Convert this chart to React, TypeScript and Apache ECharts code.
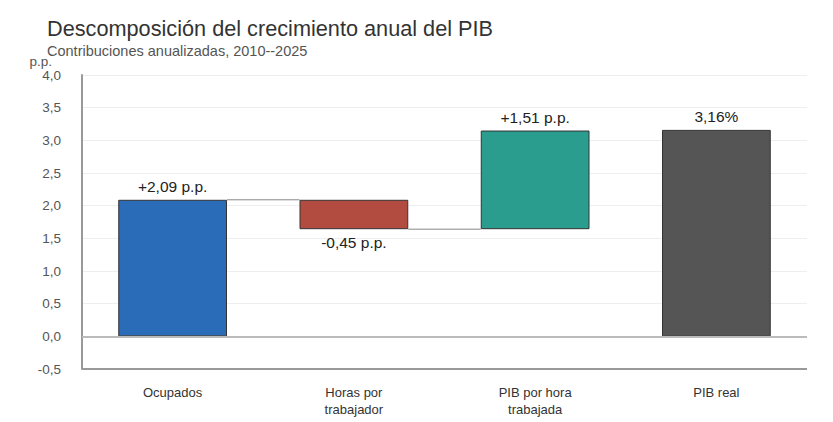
import React, { useEffect, useRef } from 'react';
import * as echarts from 'echarts';

const categories = ['Ocupados', 'Horas por\ntrabajador', 'PIB por hora\ntrabajada', 'PIB real'];
const contributions = [2.09, -0.45, 1.51];
const totalGrowth = 3.16;
const barColors = ['#2b6cb9', '#b34c40', '#2a9d8e', '#555555'];

const fmt = (v: number) => v.toFixed(2).replace('.', ',');

const App: React.FC = () => {
  const chartRef = useRef<HTMLDivElement>(null);

  useEffect(() => {
    document.body.style.margin = '0';
    if (!chartRef.current) return;
    const chart = echarts.init(chartRef.current, null, { renderer: 'svg' });

    // waterfall: invisible base + visible height
    const bases: number[] = [];
    const heights: number[] = [];
    const levels: number[] = [];
    let cum = 0;
    contributions.forEach((c) => {
      const next = cum + c;
      bases.push(Math.min(cum, next));
      heights.push(Math.abs(c));
      cum = next;
      levels.push(cum);
    });
    bases.push(0);
    heights.push(totalGrowth);

    const labelTexts = contributions
      .map((c) => (c >= 0 ? '+' : '') + fmt(c) + ' p.p.')
      .concat([fmt(totalGrowth) + '%']);

    const option = {
      animation: false,
      backgroundColor: '#fff',
      textStyle: { fontFamily: 'Arial, "Liberation Sans", sans-serif' },
      title: {
        text: 'Descomposición del crecimiento anual del PIB',
        subtext: 'Contribuciones anualizadas, 2010--2025',
        left: 42,
        top: 12,
        itemGap: 4,
        textStyle: { fontSize: 21.7, fontWeight: 'normal', color: '#333' },
        subtextStyle: { fontSize: 14.5, color: '#555' },
      },
      grid: { left: 82, right: 26, top: 75, bottom: 53 },
      xAxis: {
        type: 'category',
        data: categories,
        axisLine: { show: false },
        axisTick: { show: false },
        axisLabel: { color: '#333', fontSize: 13, margin: 15, lineHeight: 17 },
      },
      yAxis: {
        type: 'value',
        min: -0.5,
        max: 4,
        interval: 0.5,
        name: 'p.p.',
        nameLocation: 'end',
        nameGap: 5,
        nameTextStyle: { color: '#555', fontSize: 13.5, align: 'right', padding: [0, 30, 0, 0] },
        axisLine: { show: true, lineStyle: { color: '#999', width: 2 } },
        axisTick: { show: false },
        axisLabel: {
          color: '#555',
          fontSize: 13.5,
          margin: 21,
          formatter: (v: number) => v.toFixed(1).replace('.', ','),
        },
        splitLine: { lineStyle: { color: '#eeeeee', width: 1 } },
      },
      series: [
        {
          type: 'bar',
          stack: 'wf',
          data: bases,
          barWidth: '60%',
          itemStyle: { color: 'transparent' },
          emphasis: { disabled: true },
          silent: true,
          markLine: {
            silent: true,
            symbol: 'none',
            label: { show: false },
            lineStyle: { color: '#bbb', width: 2, type: 'solid' },
            data: [{ yAxis: 0 }],
          },
        },
        {
          type: 'bar',
          stack: 'wf',
          barWidth: '60%',
          data: heights.map((h, i) => ({
            value: h,
            itemStyle: { color: barColors[i], borderColor: '#333', borderWidth: 1 },
            label: {
              show: true,
              position: contributions[i] !== undefined && contributions[i] < 0 ? 'bottom' : 'top',
              distance: 5,
              formatter: labelTexts[i],
              color: '#222',
              fontSize: 15.5,
            },
          })),
        },
        {
          type: 'custom',
          silent: true,
          z: 1,
          data: levels.map((l, i) => [i, l]).slice(0, 2),
          renderItem: (params: any, api: any) => {
            const i = api.value(0);
            const lvl = api.value(1);
            const half = api.size([1, 0])[0] * 0.3;
            const p1 = api.coord([i, lvl]);
            const p2 = api.coord([i + 1, lvl]);
            return {
              type: 'line',
              shape: { x1: p1[0] + half, y1: p1[1], x2: p2[0] - half, y2: p2[1] },
              style: { stroke: '#888', lineWidth: 1 },
            };
          },
        },
        {
          type: 'line',
          data: [],
          markLine: {
            silent: true,
            symbol: 'none',
            label: { show: false },
            lineStyle: { color: '#999', width: 2, type: 'solid' },
            data: [{ yAxis: -0.5 }],
          },
        },
      ],
    };

    chart.setOption(option);
    return () => {
      chart.dispose();
    };
  }, []);

  return <div ref={chartRef} style={{ width: 833, height: 422 }} />;
};

export default App;
